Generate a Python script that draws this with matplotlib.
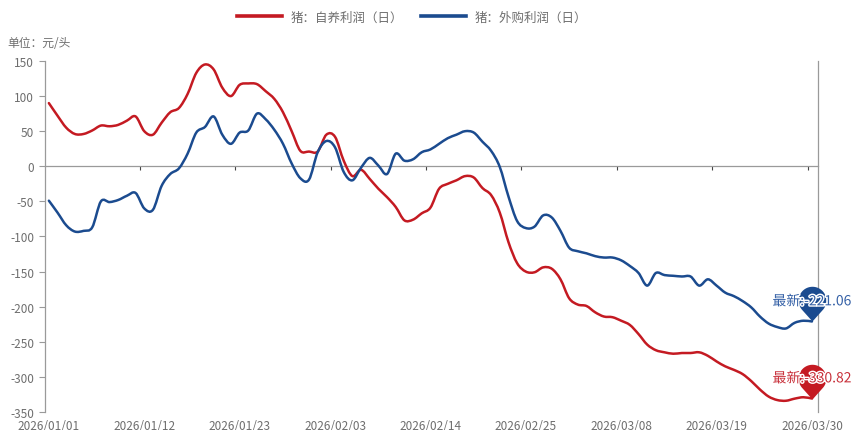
import numpy as np
import pandas as pd
import matplotlib
matplotlib.use("Agg")
import matplotlib.pyplot as plt
from matplotlib.path import Path
from matplotlib.patches import PathPatch
from matplotlib.lines import Line2D
from matplotlib import patheffects as pe
from matplotlib.transforms import blended_transform_factory

plt.rcParams['font.family'] = ['Noto Sans CJK SC', 'DejaVu Sans']
plt.rcParams['axes.unicode_minus'] = False

# daily profit, yuan per head, 2026/01/01 .. 2026/03/30
dates = pd.date_range("2026-01-01", "2026-03-30", freq="D")
self_bred = [
    90, 72, 55, 46, 46, 51, 58, 57, 59, 65,
    71, 50, 45, 62, 77, 83, 103, 133, 145, 138,
    112, 100, 116, 118, 117, 107, 96, 77, 50, 22,
    21, 21, 45, 42, 8, -14, -5, -18, -32, -44,
    -58, -77, -76, -67, -59, -32, -25, -20, -14, -16,
    -31, -41, -66, -108, -138, -150, -151, -144, -146, -161,
    -188, -197, -199, -208, -214, -215, -220, -226, -239, -254,
    -262, -265, -267, -266, -266, -265, -270, -278, -285, -290,
    -296, -306, -318, -328, -333, -334, -331, -329, -330.82,
]
purchased = [
    -49, -66, -84, -93, -92, -87, -50, -51, -48, -42,
    -38, -60, -62, -28, -11, -3, 18, 48, 56, 71,
    45, 32, 48, 51, 75, 67, 52, 32, 4, -17,
    -19, 20, 36, 27, -8, -20, -2, 12, 1, -11,
    18, 8, 10, 20, 24, 32, 40, 45, 50, 48,
    35, 22, -1, -43, -78, -88, -86, -70, -73, -92,
    -116, -121, -124, -128, -130, -130, -134, -142, -152, -170,
    -152, -155, -156, -157, -157, -170, -161, -170, -180, -185,
    -192, -201, -214, -224, -229, -231, -223, -220, -221.06,
]
series_names = ["猪：自养利润（日）", "猪：外购利润（日）"]
colors = ["#C41A22", "#1B4B8F"]
text_colors = ["#C8303A", "#3460A6"]
label_every = 11

x = np.arange(len(dates))
grey = "#9A9A9A"
txt = "#6E6E6E"


def smooth_path(xs, ys, k=1 / 6):
    # cubic bezier through every point (catmull-rom style handles)
    p = np.column_stack([xs, ys]).astype(float)
    ext = np.vstack([p[0], p, p[-1]])
    verts = [p[0]]
    codes = [Path.MOVETO]
    for i in range(len(p) - 1):
        c1 = p[i] + (ext[i + 2] - ext[i]) * k
        c2 = p[i + 1] - (ext[i + 3] - ext[i + 1]) * k
        verts += [c1, c2, p[i + 1]]
        codes += [Path.CURVE4] * 3
    return Path(np.array(verts), codes)


fig = plt.figure(figsize=(8.53, 4.31), dpi=100)
ax = fig.add_axes([0.0522, 0.0418, 0.9068, 0.8144])

for vals, c in zip([self_bred, purchased], colors):
    ax.add_patch(PathPatch(smooth_path(x, vals), fill=False, edgecolor=c,
                           lw=1.8, capstyle="round", joinstyle="round",
                           zorder=3))

# pin marker: circle on top of a pointed tip sitting at the data point
ang = np.linspace(np.deg2rad(-41.8), np.deg2rad(221.8), 60)
verts = np.column_stack([np.cos(ang), 1.5 + np.sin(ang)])
verts = np.vstack([[0, 0], verts, [0, 0]])
pin = Path(verts, closed=True)

for vals, c, tc in zip([self_bred, purchased], colors, text_colors):
    ax.plot(x[-1], vals[-1], marker=pin, markersize=50, color=c,
            markeredgewidth=0, zorder=5, clip_on=False)
    ax.annotate(f"最新:{vals[-1]:.2f}", (x[-1], vals[-1]),
                xytext=(0, 14.5), textcoords="offset points",
                ha="center", va="center", fontsize=10, color=tc, zorder=6,
                annotation_clip=False,
                path_effects=[pe.withStroke(linewidth=2, foreground="white")])

ax.set_xlim(-0.5, 88.7)
ax.set_ylim(-350, 150)
ax.set_yticks(np.arange(-350, 151, 50))
ax.tick_params(axis="y", colors=grey, labelcolor=txt, labelsize=8.5,
               length=4, width=0.8)

# x axis line sits on zero, ticks on the day boundaries
ax.spines["bottom"].set_position(("data", 0))
ax.set_xticks(np.arange(10.5, 88, 11))
ax.tick_params(axis="x", colors="#444444", length=3, width=0.8,
               labelbottom=False)
for s in ["bottom", "left", "right"]:
    ax.spines[s].set_color(grey)
    ax.spines[s].set_linewidth(0.9)
ax.spines["top"].set_visible(False)

trans = blended_transform_factory(ax.transData, ax.transAxes)
for i in range(0, len(dates), label_every):
    ax.text(x[i], -0.033, dates[i].strftime("%Y/%m/%d"), transform=trans,
            ha="center", va="center_baseline", fontsize=8.5, color=txt)

fig.text(0.009, 0.9, "单位：元/头", fontsize=8.5, color=txt, va="center")

handles = [Line2D([], [], color=c, lw=2.6) for c in colors]
fig.legend(handles, series_names, loc="center", bbox_to_anchor=(0.483, 0.958),
           ncol=2, frameon=False, fontsize=9, labelcolor=txt,
           handlelength=3.6, handletextpad=0.7, columnspacing=1.4)

fig.savefig("out.png", dpi=100)
